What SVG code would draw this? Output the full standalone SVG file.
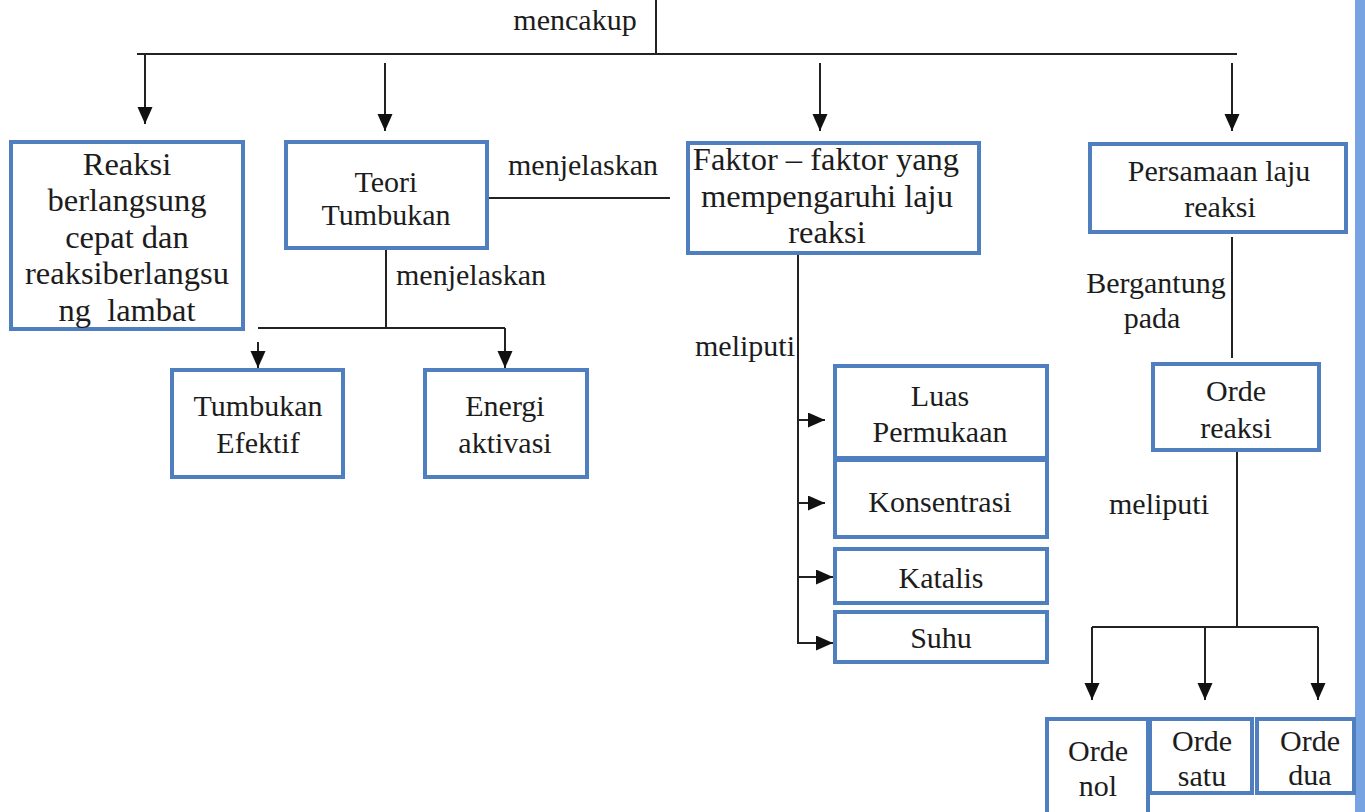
<svg xmlns="http://www.w3.org/2000/svg" width="1365" height="812" viewBox="0 0 1365 812">
<defs>
<style>
.box{fill:#ffffff;stroke:#4f7fbe;stroke-width:4}
.t{font-family:"Liberation Serif","Times New Roman",serif;font-size:30px;fill:#1c1c1c;text-anchor:middle}
.tl{font-size:32.5px}
.ln{fill:none;stroke:#222;stroke-width:2}
</style>
<marker id="ah" markerUnits="userSpaceOnUse" markerWidth="18" markerHeight="16" refX="17" refY="7.5" orient="auto">
<path d="M0,0 L17,7.5 L0,15 z" fill="#111"/>
</marker>
</defs>
<rect x="0" y="0" width="1365" height="812" fill="#ffffff"/>
<rect x="1355" y="0" width="10" height="812" fill="#78a3e2"/>

<g id="connectors">
<line class="ln" x1="656" y1="0" x2="656" y2="54"/>
<line class="ln" x1="137" y1="54" x2="1237" y2="54"/>
<line class="ln" x1="145" y1="54" x2="145" y2="124" marker-end="url(#ah)"/>
<line class="ln" x1="385" y1="63" x2="385" y2="131" marker-end="url(#ah)"/>
<line class="ln" x1="820" y1="63" x2="820" y2="131" marker-end="url(#ah)"/>
<line class="ln" x1="1232" y1="63" x2="1232" y2="131" marker-end="url(#ah)"/>
<line class="ln" x1="488" y1="198" x2="670" y2="198"/>
<line class="ln" x1="386" y1="249" x2="386" y2="328"/>
<line class="ln" x1="258" y1="328" x2="505" y2="328"/>
<line class="ln" x1="258" y1="342" x2="258" y2="368" marker-end="url(#ah)"/>
<line class="ln" x1="505" y1="328" x2="505" y2="368" marker-end="url(#ah)"/>
<polyline class="ln" points="798,254 798,643 825,643"/>
<line class="ln" x1="798" y1="420" x2="825" y2="420" marker-end="url(#ah)"/>
<line class="ln" x1="798" y1="503" x2="825" y2="503" marker-end="url(#ah)"/>
<line class="ln" x1="798" y1="577" x2="833" y2="577" marker-end="url(#ah)"/>
<line class="ln" x1="810" y1="643" x2="833" y2="643" marker-end="url(#ah)"/>
<line class="ln" x1="1232" y1="237" x2="1232" y2="358"/>
<line class="ln" x1="1237" y1="451" x2="1237" y2="627"/>
<line class="ln" x1="1092" y1="627" x2="1318" y2="627"/>
<line class="ln" x1="1092" y1="627" x2="1092" y2="700" marker-end="url(#ah)"/>
<line class="ln" x1="1205" y1="627" x2="1205" y2="700" marker-end="url(#ah)"/>
<line class="ln" x1="1318" y1="627" x2="1318" y2="700" marker-end="url(#ah)"/>
<text class="t" x="575" y="30">mencakup</text>
<text class="t" x="583" y="175">menjelaskan</text>
<text class="t" x="471" y="285">menjelaskan</text>
<text class="t" x="745" y="356">meliputi</text>
<text class="t" x="1156" y="293">Bergantung</text>
<text class="t" x="1152" y="328">pada</text>
<text class="t" x="1159" y="514">meliputi</text>
</g>

<g id="n-reaksi">
<rect class="box" x="11" y="142" width="232" height="187"/>
<text class="t tl" x="127" y="175">Reaksi</text>
<text class="t tl" x="127" y="211">berlangsung</text>
<text class="t tl" x="127" y="248">cepat dan</text>
<text class="t tl" x="127" y="284">reaksiberlangsu</text>
<text class="t tl" x="127" y="321">ng&#160; lambat</text>
</g>

<g id="n-teori">
<rect class="box" x="286" y="142" width="201" height="106"/>
<text class="t" x="386" y="192">Teori</text>
<text class="t" x="386" y="225">Tumbukan</text>
</g>

<g id="n-faktor">
<rect class="box" x="688" y="143" width="291" height="110"/>
<text class="t tl" x="826" y="170">Faktor – faktor yang</text>
<text class="t tl" x="827" y="207">mempengaruhi laju</text>
<text class="t tl" x="827" y="243">reaksi</text>
</g>

<g id="n-persamaan">
<rect class="box" x="1090" y="144" width="256" height="88"/>
<text class="t" x="1219" y="181">Persamaan laju</text>
<text class="t" x="1220" y="217">reaksi</text>
</g>

<g id="n-tumbukan">
<rect class="box" x="172" y="370" width="171" height="107"/>
<text class="t" x="258" y="416">Tumbukan</text>
<text class="t" x="258" y="453">Efektif</text>
</g>

<g id="n-energi">
<rect class="box" x="425" y="370" width="162" height="107"/>
<text class="t" x="505" y="416">Energi</text>
<text class="t" x="505" y="453">aktivasi</text>
</g>

<g id="n-luas">
<rect class="box" x="835" y="366" width="212" height="92"/>
<text class="t" x="940" y="406">Luas</text>
<text class="t" x="940" y="442">Permukaan</text>
</g>

<g id="n-konsentrasi">
<rect class="box" x="835" y="460" width="212" height="77"/>
<text class="t" x="940" y="512">Konsentrasi</text>
</g>

<g id="n-katalis">
<rect class="box" x="835" y="549" width="212" height="54"/>
<text class="t" x="941" y="588">Katalis</text>
</g>

<g id="n-suhu">
<rect class="box" x="835" y="612" width="212" height="50"/>
<text class="t" x="941" y="648">Suhu</text>
</g>

<g id="n-orde-reaksi">
<rect class="box" x="1153" y="364" width="166" height="86"/>
<text class="t" x="1236" y="401">Orde</text>
<text class="t" x="1236" y="438">reaksi</text>
</g>

<g id="n-orde-nol">
<rect class="box" x="1047" y="719" width="101" height="95"/>
<text class="t" x="1098" y="761">Orde</text>
<text class="t" x="1098" y="796">nol</text>
</g>

<g id="n-orde-satu">
<rect class="box" x="1150" y="719" width="102" height="74"/>
<text class="t" x="1202" y="751">Orde</text>
<text class="t" x="1202" y="786">satu</text>
</g>

<g id="n-orde-dua">
<rect class="box" x="1257" y="719" width="97" height="74"/>
<text class="t" x="1310" y="751">Orde</text>
<text class="t" x="1310" y="785">dua</text>
</g>
</svg>
